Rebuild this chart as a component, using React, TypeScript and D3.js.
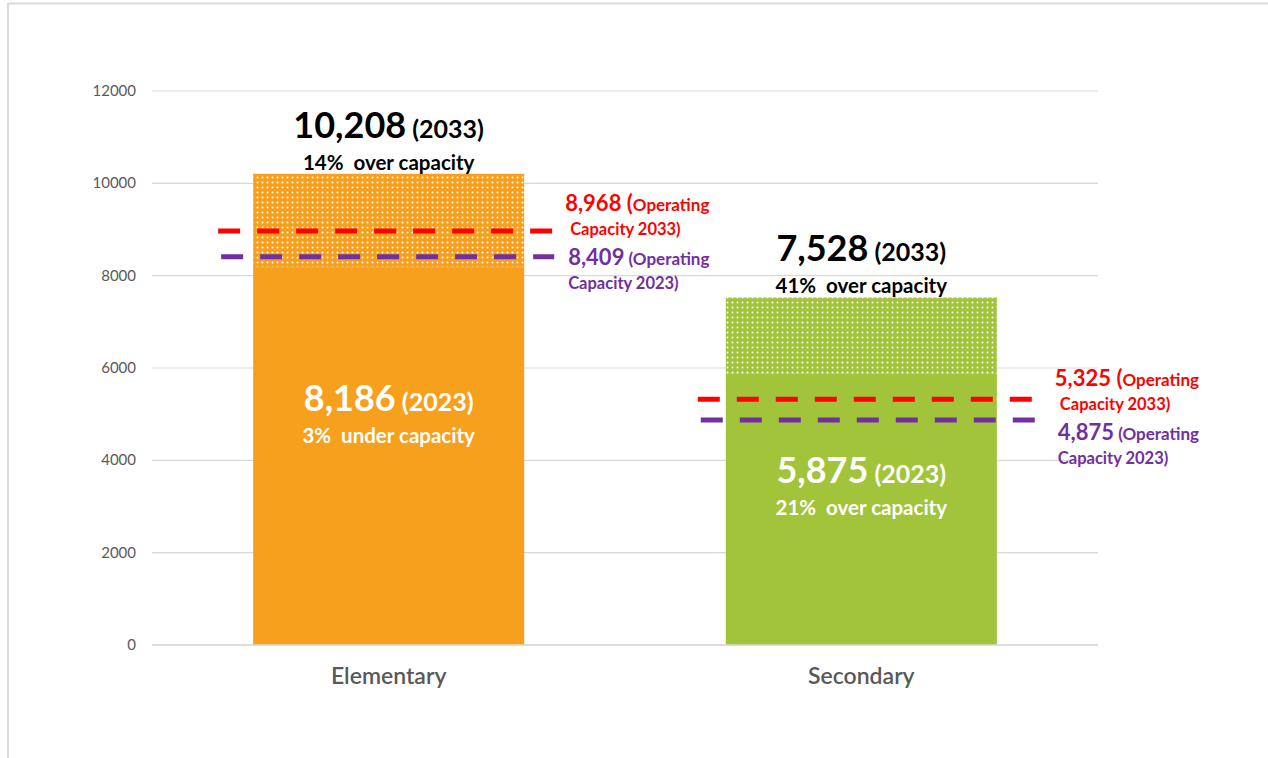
import React from "react";
import * as d3 from "d3";

const categories = ["Elementary", "Secondary"];
const values2023 = [8186, 5875];
const values2033 = [10208, 7528];
const capacity2033 = [8968, 5325];
const capacity2023 = [8409, 4875];
const pct2033 = ["14%\u00a0\u00a0over capacity", "41%\u00a0\u00a0over capacity"];
const pct2023 = ["3%\u00a0\u00a0under capacity", "21%\u00a0\u00a0over capacity"];
const barColors = ["#F7A01E", "#A2C43A"];
const yTicks = [0, 2000, 4000, 6000, 8000, 10000, 12000];

const W = 1268;
const H = 758;
const FONT = "Lato, 'Open Sans', sans-serif";
const lineStartPad = [35, 28];
const lineEndPad = [30, 40];
const labelGap = [11, 18];
const innerLabelDy = [144, 109];
const labelShift33 = [0, 7];
const labelShift23 = [0, 12];

export default function App() {
  const y = d3.scaleLinear().domain([0, 12000]).range([645, 91]);
  const x = d3.scaleBand().domain(categories).range([152, 1098]).paddingInner(0.4265).paddingOuter(0.214);
  const fmt = d3.format(",");
  const red = "#FF0000";
  const purple = "#7030A0";

  return (
    <div style={{ position: "absolute", left: 0, top: 0 }}>
      <svg width={W} height={H} style={{ display: "block" }}>
        <defs>
          {barColors.map((c, i) => (
            <pattern key={i} id={`dots${i}`} width={5} height={5} patternUnits="userSpaceOnUse">
              <rect width={5} height={5} fill={c} />
              <circle cx={2.5} cy={2.5} r={1} fill="#fff" />
            </pattern>
          ))}
        </defs>
        <rect x={0} y={0} width={W} height={H} fill="#fff" />
        <line x1={8} x2={W} y1={3.5} y2={3.5} stroke="#d9d9d9" strokeWidth={2} />
        <line x1={8} x2={8} y1={3} y2={H} stroke="#d9d9d9" strokeWidth={2} />

        {yTicks.map((t) => (
          <g key={t}>
            <line x1={152} x2={1098} y1={y(t)} y2={y(t)} stroke="#d9d9d9" strokeWidth={1.2} />
            <text x={136} y={y(t) + 5} textAnchor="end" fontFamily={FONT} fontSize={15} fill="#595959">
              {t}
            </text>
          </g>
        ))}

        {categories.map((c, i) => {
          const bx = x(c)!;
          const bw = x.bandwidth();
          const cx = bx + bw / 2;
          return (
            <g key={c}>
              <rect x={bx} y={y(values2033[i])} width={bw} height={y(values2023[i]) - y(values2033[i])} fill={`url(#dots${i})`} />
              <rect x={bx} y={y(values2023[i])} width={bw} height={y(0) - y(values2023[i])} fill={barColors[i]} />
              <text x={cx} y={684} textAnchor="middle" fontFamily={FONT} fontSize={23} fontWeight={600} fill="#595959">
                {c}
              </text>
            </g>
          );
        })}
        <line x1={152} x2={1098} y1={y(0)} y2={y(0)} stroke="#d9d9d9" strokeWidth={1.5} />

        {categories.map((c, i) => {
          const bx = x(c)!;
          const bw = x.bandwidth();
          const cx = bx + bw / 2;
          const lx1 = bx - lineStartPad[i];
          const lx2 = bx + bw + lineEndPad[i];
          const ly33 = y(capacity2033[i]);
          const ly23 = y(capacity2023[i]);
          const tx = lx2 + labelGap[i];
          const t33 = ly33 + labelShift33[i];
          const t23 = ly23 + labelShift23[i];
          return (
            <g key={"o" + c}>
              <line x1={lx1} x2={lx2} y1={ly33} y2={ly33} stroke={red} strokeWidth={5} strokeDasharray="22 17" />
              <line x1={lx1 + 3} x2={lx2} y1={ly23} y2={ly23} stroke={purple} strokeWidth={5} strokeDasharray="22 17" />

              <text x={cx} y={y(values2033[i]) - 36} textAnchor="middle" fontFamily={FONT} fontWeight={700} fill="#000">
                <tspan fontSize={36}>{fmt(values2033[i])}</tspan>
                <tspan fontSize={25}> (2033)</tspan>
              </text>
              <text x={cx} y={y(values2033[i]) - 4} textAnchor="middle" fontFamily={FONT} fontWeight={700} fontSize={20.5} fill="#000">
                {pct2033[i]}
              </text>

              <text x={cx} y={y(values2023[i]) + innerLabelDy[i]} textAnchor="middle" fontFamily={FONT} fontWeight={700} fill="#fff">
                <tspan fontSize={36}>{fmt(values2023[i])}</tspan>
                <tspan fontSize={25}> (2023)</tspan>
              </text>
              <text x={cx} y={y(values2023[i]) + innerLabelDy[i] + 32} textAnchor="middle" fontFamily={FONT} fontWeight={700} fontSize={20.5} fill="#fff">
                {pct2023[i]}
              </text>

              <text x={tx} y={t33 - 20} fontFamily={FONT} fontWeight={700} fill={red}>
                <tspan fontSize={22}>{fmt(capacity2033[i])} (</tspan>
                <tspan fontSize={17}>Operating</tspan>
              </text>
              <text x={tx + 5} y={t33 + 4} fontFamily={FONT} fontWeight={700} fontSize={16.5} fill={red}>
                Capacity 2033)
              </text>
              <text x={tx + 3} y={t23 + 8} fontFamily={FONT} fontWeight={700} fill={purple}>
                <tspan fontSize={22}>{fmt(capacity2023[i])}</tspan>
                <tspan fontSize={17}> (Operating</tspan>
              </text>
              <text x={tx + 3} y={t23 + 32} fontFamily={FONT} fontWeight={700} fontSize={16.5} fill={purple}>
                Capacity 2023)
              </text>
            </g>
          );
        })}
      </svg>
    </div>
  );
}
